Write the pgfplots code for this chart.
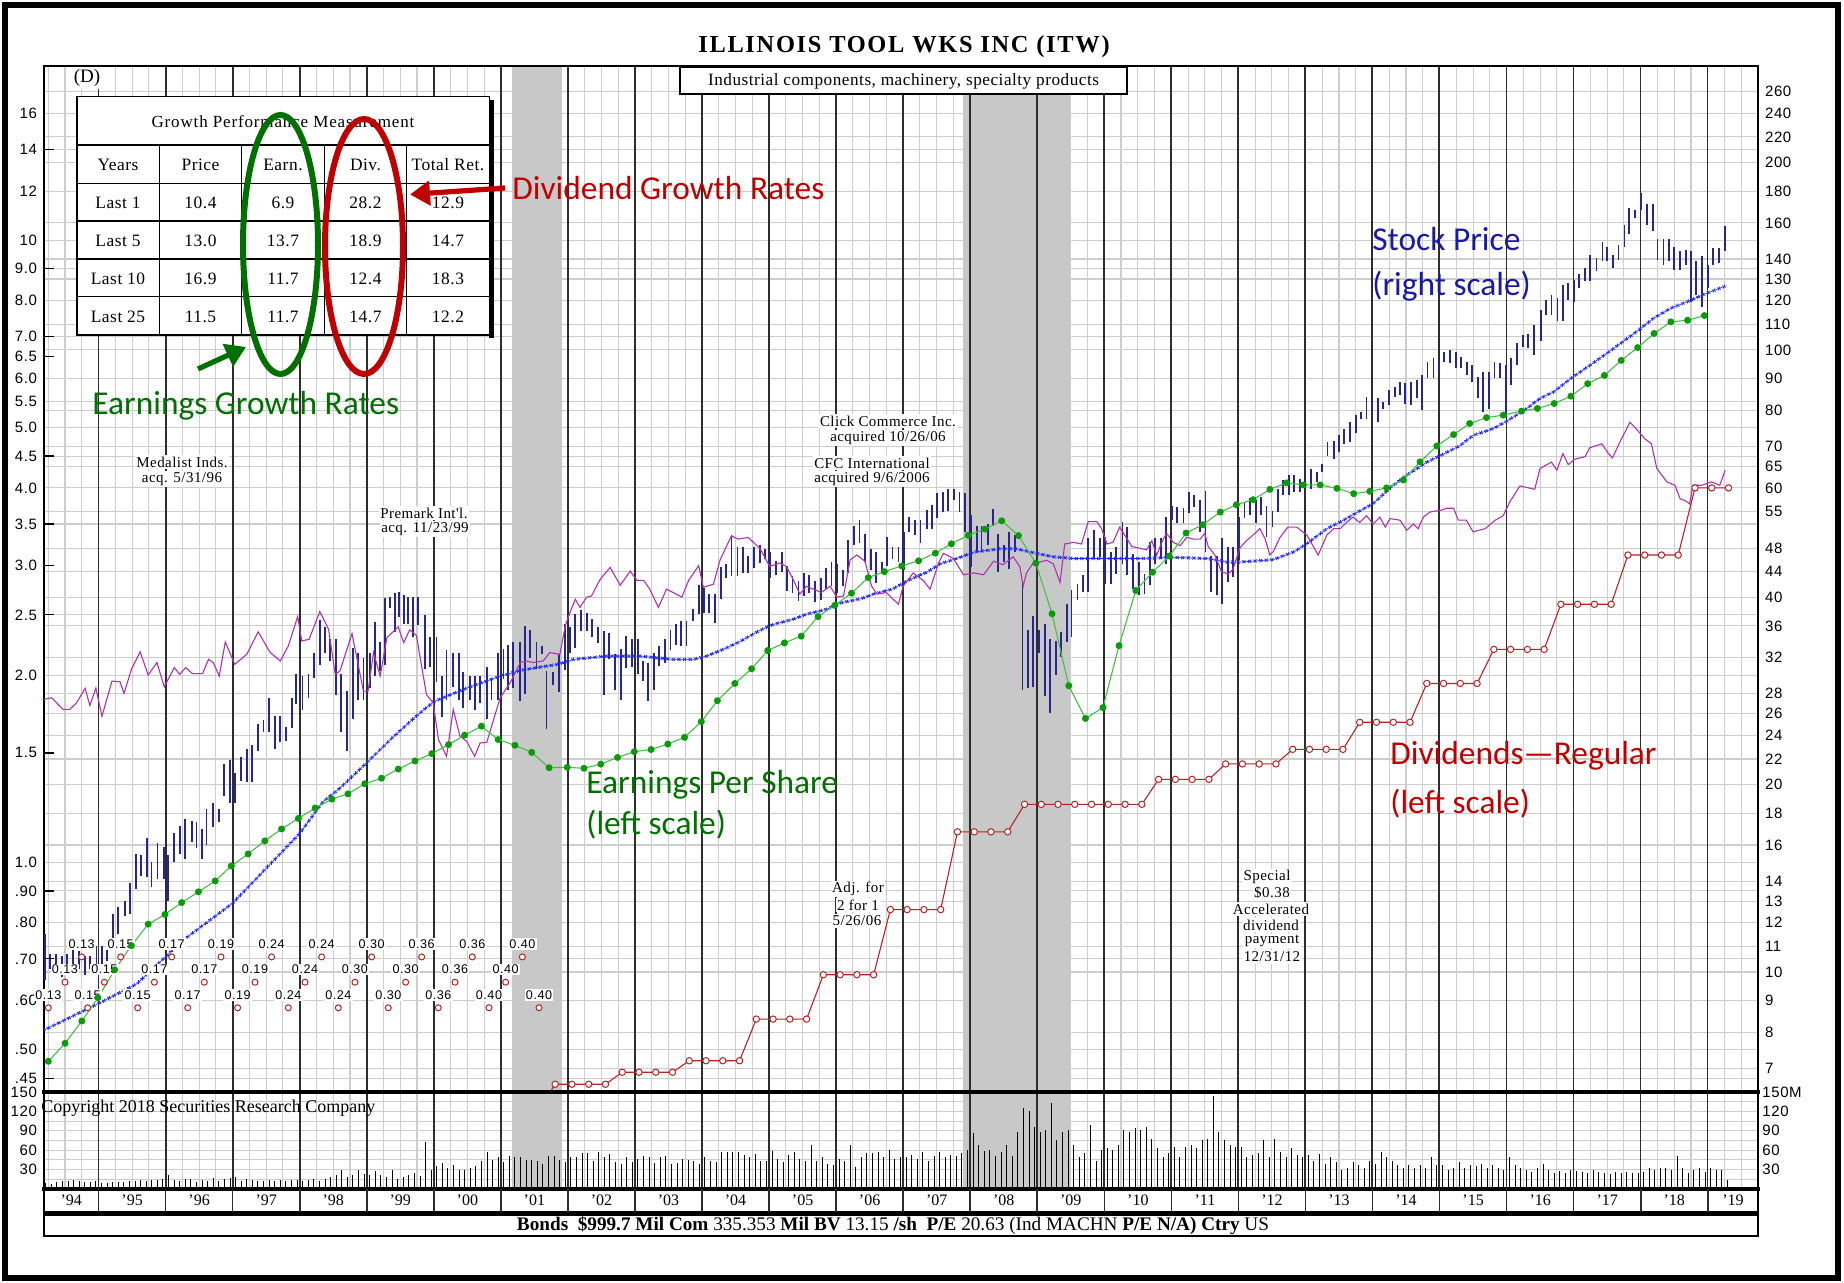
\documentclass[border=0pt]{standalone}
\usepackage{fontspec}
\setmainfont{Liberation Serif}
\newfontfamily\ticksf[LetterSpace=4]{Liberation Sans}
\newfontfamily\callf{Carlito}
\newfontfamily\annf[LetterSpace=3]{Liberation Serif}
\newfontfamily\widef[LetterSpace=5]{Liberation Serif}
\newfontfamily\titlef[LetterSpace=7]{Liberation Serif}
\usepackage{pgfplots}
\usepackage{pgfplotstable}
\pgfplotsset{compat=1.18}
\usetikzlibrary{decorations.markings,arrows.meta}

\definecolor{navy}{RGB}{38,38,140}
\definecolor{mablue}{RGB}{30,40,255}
\definecolor{rspurple}{RGB}{175,50,175}
\definecolor{epsgreen}{RGB}{10,155,10}
\definecolor{epsline}{RGB}{70,190,70}
\definecolor{divred}{RGB}{185,35,35}
\definecolor{gridgray}{RGB}{205,205,205}
\definecolor{recgray}{RGB}{200,200,200}
\definecolor{yearline}{RGB}{45,45,45}
\definecolor{callgreen}{RGB}{0,112,0}
\definecolor{callred}{RGB}{192,0,0}
\definecolor{callblue}{RGB}{25,25,165}

\newcommand\tickfont{\ticksf\fontsize{7.5}{8}\selectfont}
\newcommand\callfont{\callf\fontsize{16.7}{18}\selectfont}
\newcommand\annfont{\annf\fontsize{7.5}{8.5}\selectfont}

\tikzset{xmarks/.style={postaction={decorate}, decoration={markings,
  mark=between positions 0 and 1 step 2.8pt with {\draw[mablue, line width=0.4pt]
  (-0.75pt,-0.75pt)--(0.75pt,0.75pt) (-0.75pt,0.75pt)--(0.75pt,-0.75pt);}}},
  px/.style={x=0.5pt, y=-0.5pt, yshift=641.5pt}}

% monthly volume, millions of shares, from Apr 1994
\pgfplotstableread[row sep=\\]{v\\
9\\7\\11\\13\\13\\14\\13\\11\\11\\12\\
9\\10\\11\\11\\11\\12\\13\\14\\13\\14\\14\\15\\
21\\14\\13\\16\\15\\11\\14\\13\\17\\13\\15\\17\\
19\\13\\15\\14\\13\\13\\14\\12\\14\\13\\14\\14\\
13\\14\\15\\13\\16\\19\\21\\30\\19\\21\\29\\23\\
21\\28\\21\\19\\30\\16\\19\\21\\25\\20\\72\\30\\
36\\40\\33\\37\\29\\29\\33\\35\\44\\57\\45\\50\\
42\\51\\49\\49\\45\\45\\43\\39\\51\\51\\45\\42\\
50\\49\\55\\55\\44\\57\\49\\54\\42\\39\\49\\42\\
47\\51\\49\\40\\49\\51\\39\\40\\47\\45\\44\\39\\
50\\44\\42\\57\\57\\57\\57\\52\\50\\54\\44\\44\\
59\\47\\42\\52\\57\\47\\44\\68\\44\\50\\39\\37\\
47\\44\\68\\34\\50\\56\\56\\57\\49\\60\\47\\49\\
50\\52\\47\\57\\44\\51\\57\\49\\52\\51\\55\\60\\
86\\68\\59\\61\\51\\57\\68\\51\\88\\125\\120\\96\\
88\\91\\133\\75\\88\\91\\68\\50\\55\\99\\44\\60\\
63\\60\\68\\91\\88\\94\\91\\96\\78\\63\\50\\55\\
65\\50\\65\\68\\63\\75\\78\\144\\88\\75\\68\\65\\
65\\50\\52\\55\\75\\50\\78\\57\\50\\63\\52\\50\\
52\\44\\54\\39\\49\\42\\29\\33\\42\\37\\33\\44\\
39\\57\\49\\44\\37\\33\\37\\33\\37\\32\\50\\37\\
37\\29\\33\\42\\33\\37\\35\\39\\33\\37\\33\\30\\
50\\37\\33\\30\\26\\32\\39\\29\\25\\28\\25\\30\\
28\\26\\25\\30\\26\\25\\23\\26\\24\\26\\24\\25\\
26\\32\\29\\33\\32\\30\\51\\33\\25\\30\\33\\26\\
33\\29\\29\\14\\
}\voltab

\begin{document}
\begin{tikzpicture}
\begin{scope}[px]
\path[use as bounding box, fill=white] (0,0) rectangle (1844,1283);
\end{scope}

% ---------- price panel: light grid + recession shading
\begin{axis}[at={(22pt,95.5pt)}, anchor=south west, scale only axis, width=857pt, height=513pt,
  xmin=1994.186, xmax=2019.75, ymode=log, ymin=0.4276, ymax=19.07,
  axis line style={draw=none}, major tick length=0pt, minor tick length=0pt,
  xticklabels={}, yticklabels={},
  xtick distance=0.25, xmajorgrids, ymajorgrids,
  ytick={0.45,0.4667,0.5,0.5333,0.6,0.6667,0.7,0.7333,0.8,0.8667,0.9,0.9333,1,1.0667,1.2,1.3333,1.4667,1.6,1.7333,1.8667,2,2.1333,2.4,2.5,2.6667,2.9333,3.2,3.5,3.6667,4,4.3333,4.5,4.6667,5,5.3333,5.5,6,6.6667,7,7.3333,8,8.6667,9,9.3333,10,10.6667,12,13.3333,14,14.6667,16,17.3333},
  major grid style={draw=gridgray, line width=0.55pt}]
\addplot[draw=none, fill=recgray] coordinates {(2001.16,0.4276)(2001.16,19.07)(2001.91,19.07)(2001.91,0.4276)};
\addplot[draw=none, fill=recgray] coordinates {(2007.90,0.4276)(2007.90,19.07)(2009.49,19.07)(2009.49,0.4276)};
\end{axis}

% ---------- price panel: right scale, year lines, price bars, moving average
\begin{axis}[at={(22pt,95.5pt)}, anchor=south west, scale only axis, width=857pt, height=513pt,
  xmin=1994.186, xmax=2019.75, ymode=log, ymin=6.414, ymax=286.05,
  major tick length=0pt, minor tick length=0pt, xticklabels={},
  xtick={1995,...,2019}, xmajorgrids, major grid style={draw=yearline, line width=0.9pt},
  axis line style={draw=black, line width=0.9pt},
  ytick={7,8,9,10,11,12,13,14,16,18,20,22,24,26,28,32,36,40,44,48,55,60,65,70,80,90,100,110,120,130,140,160,180,200,220,240,260},
  yticklabels={7,8,9,10,11,12,13,14,16,18,20,22,24,26,28,32,36,40,44,48,55,60,65,70,80,90,100,110,120,130,140,160,180,200,220,240,260},
  yticklabel pos=right, yticklabel style={font=\tickfont}]
\addplot[navy, line width=0.9pt, unbounded coords=jump] coordinates {
(1994.20,9.7)(1994.20,11.5)(1994.20,nan) (1994.28,10.1)(1994.28,10.7)(1994.28,nan)
(1994.37,9.9)(1994.37,10.7)(1994.37,nan) (1994.45,9.8)(1994.45,10.6)(1994.45,nan)
(1994.53,9.9)(1994.53,10.7)(1994.53,nan) (1994.62,9.9)(1994.62,11.0)(1994.62,nan)
(1994.71,10.1)(1994.71,10.8)(1994.71,nan) (1994.80,9.9)(1994.80,10.6)(1994.80,nan)
(1994.87,10.1)(1994.87,10.6)(1994.87,nan) (1994.97,10.2)(1994.97,11.0)(1994.97,nan)
(1995.05,10.1)(1995.05,11.0)(1995.05,nan) (1995.13,10.4)(1995.13,11.3)(1995.13,nan)
(1995.21,11.3)(1995.21,12.4)(1995.21,nan) (1995.29,11.5)(1995.29,12.7)(1995.29,nan)
(1995.39,12.3)(1995.39,13.0)(1995.39,nan) (1995.47,12.4)(1995.47,13.9)(1995.47,nan)
(1995.56,13.6)(1995.56,15.5)(1995.56,nan) (1995.63,14.25)(1995.63,15.4)(1995.63,nan)
(1995.72,14.2)(1995.72,16.4)(1995.72,nan) (1995.79,13.7)(1995.79,15.0)(1995.79,nan)
(1995.88,14.1)(1995.88,16.1)(1995.88,nan) (1995.97,14.1)(1995.97,15.9)(1995.97,nan)
(1996.04,13.0)(1996.04,15.4)(1996.04,nan) (1996.13,15.0)(1996.13,16.7)(1996.13,nan)
(1996.21,15.5)(1996.21,17.15)(1996.21,nan) (1996.29,15.2)(1996.29,17.6)(1996.29,nan)
(1996.39,16.2)(1996.39,17.5)(1996.39,nan) (1996.46,15.8)(1996.46,17.4)(1996.46,nan)
(1996.54,15.2)(1996.54,17.0)(1996.54,nan) (1996.61,16.0)(1996.61,18.25)(1996.61,nan)
(1996.71,17.1)(1996.71,18.7)(1996.71,nan) (1996.80,17.4)(1996.80,18.25)(1996.80,nan)
(1996.87,19.2)(1996.87,21.6)(1996.87,nan) (1996.96,18.7)(1996.96,21.9)(1996.96,nan)
(1997.03,18.7)(1997.03,20.9)(1997.03,nan) (1997.12,20.3)(1997.12,22.2)(1997.12,nan)
(1997.21,20.2)(1997.21,22.8)(1997.21,nan) (1997.29,20.2)(1997.29,23.2)(1997.29,nan)
(1997.38,22.7)(1997.38,25.0)(1997.38,nan) (1997.46,24.3)(1997.46,25.4)(1997.46,nan)
(1997.54,24.3)(1997.54,27.6)(1997.54,nan) (1997.63,22.8)(1997.63,25.8)(1997.63,nan)
(1997.70,23.4)(1997.70,25.8)(1997.70,nan) (1997.79,23.5)(1997.79,24.8)(1997.79,nan)
(1997.88,24.7)(1997.88,27.6)(1997.88,nan) (1997.95,27.0)(1997.95,30.1)(1997.95,nan)
(1998.04,26.4)(1998.04,29.9)(1998.04,nan) (1998.13,27.6)(1998.13,30.1)(1998.13,nan)
(1998.21,29.7)(1998.21,32.6)(1998.21,nan) (1998.30,31.1)(1998.30,36.8)(1998.30,nan)
(1998.38,32.6)(1998.38,35.9)(1998.38,nan) (1998.45,31.6)(1998.45,34.3)(1998.45,nan)
(1998.54,27.9)(1998.54,34.3)(1998.54,nan) (1998.62,24.3)(1998.62,30.1)(1998.62,nan)
(1998.70,22.7)(1998.70,28.3)(1998.70,nan) (1998.80,25.5)(1998.80,33.2)(1998.80,nan)
(1998.87,27.4)(1998.87,32.6)(1998.87,nan) (1998.95,27.4)(1998.95,32.0)(1998.95,nan)
(1999.05,28.6)(1999.05,32.6)(1999.05,nan) (1999.12,29.9)(1999.12,36.5)(1999.12,nan)
(1999.20,30.5)(1999.20,33.9)(1999.20,nan) (1999.27,31.2)(1999.27,39.9)(1999.27,nan)
(1999.35,38.5)(1999.35,40.1)(1999.35,nan) (1999.42,35.2)(1999.42,40.6)(1999.42,nan)
(1999.48,37.2)(1999.48,40.8)(1999.48,nan) (1999.55,36.3)(1999.55,40.3)(1999.55,nan)
(1999.62,36.3)(1999.62,40.1)(1999.62,nan) (1999.69,34.6)(1999.69,40.1)(1999.69,nan)
(1999.77,36.1)(1999.77,40.1)(1999.77,nan) (1999.87,30.7)(1999.87,37.5)(1999.87,nan)
(1999.94,30.9)(1999.94,34.6)(1999.94,nan) (2000.04,29.3)(2000.04,34.6)(2000.04,nan)
(2000.12,25.7)(2000.12,29.9)(2000.12,nan) (2000.19,27.4)(2000.19,32.9)(2000.19,nan)
(2000.29,28.7)(2000.29,32.6)(2000.29,nan) (2000.37,27.4)(2000.37,32.6)(2000.37,nan)
(2000.44,26.6)(2000.44,30.3)(2000.44,nan) (2000.54,27.4)(2000.54,29.9)(2000.54,nan)
(2000.61,26.4)(2000.61,29.9)(2000.61,nan) (2000.69,27.1)(2000.69,29.9)(2000.69,nan)
(2000.79,25.5)(2000.79,30.9)(2000.79,nan) (2000.86,27.4)(2000.86,29.7)(2000.86,nan)
(2000.96,27.4)(2000.96,32.6)(2000.96,nan) (2001.04,29.6)(2001.04,33.0)(2001.04,nan)
(2001.11,28.4)(2001.11,33.5)(2001.11,nan) (2001.18,28.6)(2001.18,33.9)(2001.18,nan)
(2001.28,27.3)(2001.28,33.9)(2001.28,nan) (2001.36,28.0)(2001.36,36.0)(2001.36,nan)
(2001.43,32.0)(2001.43,35.4)(2001.43,nan) (2001.53,30.7)(2001.53,33.9)(2001.53,nan)
(2001.61,32.4)(2001.61,33.4)(2001.61,nan) (2001.68,24.6)(2001.68,30.5)(2001.68,nan)
(2001.78,28.9)(2001.78,30.3)(2001.78,nan) (2001.87,28.2)(2001.87,32.4)(2001.87,nan)
(2001.96,30.6)(2001.96,36.3)(2001.96,nan) (2002.03,32.6)(2002.03,35.8)(2002.03,nan)
(2002.11,33.2)(2002.11,37.6)(2002.11,nan) (2002.19,35.3)(2002.19,38.2)(2002.19,nan)
(2002.28,35.3)(2002.28,37.8)(2002.28,nan) (2002.36,34.5)(2002.36,36.9)(2002.36,nan)
(2002.45,33.8)(2002.45,35.8)(2002.45,nan) (2002.54,27.9)(2002.54,35.3)(2002.54,nan)
(2002.61,31.8)(2002.61,35.1)(2002.61,nan) (2002.70,28.4)(2002.70,32.4)(2002.70,nan)
(2002.79,27.4)(2002.79,33.1)(2002.79,nan) (2002.87,30.8)(2002.87,34.7)(2002.87,nan)
(2002.95,30.9)(2002.95,34.3)(2002.95,nan) (2003.04,30.1)(2003.04,34.3)(2003.04,nan)
(2003.12,29.4)(2003.12,31.6)(2003.12,nan) (2003.20,27.3)(2003.20,31.4)(2003.20,nan)
(2003.28,28.4)(2003.28,32.6)(2003.28,nan) (2003.36,31.0)(2003.36,33.4)(2003.36,nan)
(2003.45,31.4)(2003.45,34.3)(2003.45,nan) (2003.53,32.9)(2003.53,35.4)(2003.53,nan)
(2003.61,33.6)(2003.61,36.3)(2003.61,nan) (2003.69,33.4)(2003.69,36.7)(2003.69,nan)
(2003.77,33.4)(2003.77,36.7)(2003.77,nan) (2003.86,36.7)(2003.86,38.4)(2003.86,nan)
(2003.95,37.6)(2003.95,41.9)(2003.95,nan) (2004.03,37.8)(2004.03,41.5)(2004.03,nan)
(2004.11,37.8)(2004.11,40.5)(2004.11,nan) (2004.19,36.4)(2004.19,40.5)(2004.19,nan)
(2004.28,39.8)(2004.28,44.8)(2004.28,nan) (2004.36,43.0)(2004.36,45.2)(2004.36,nan)
(2004.44,43.3)(2004.44,50.4)(2004.44,nan) (2004.53,43.3)(2004.53,48.2)(2004.53,nan)
(2004.61,43.8)(2004.61,48.2)(2004.61,nan) (2004.69,43.8)(2004.69,46.7)(2004.69,nan)
(2004.78,44.6)(2004.78,48.2)(2004.78,nan) (2004.86,45.4)(2004.86,48.5)(2004.86,nan)
(2004.94,46.1)(2004.94,47.9)(2004.94,nan) (2005.01,43.0)(2005.01,47.3)(2005.01,nan)
(2005.10,43.4)(2005.10,45.8)(2005.10,nan) (2005.19,44.0)(2005.19,47.3)(2005.19,nan)
(2005.27,41.0)(2005.27,45.0)(2005.27,nan) (2005.35,40.7)(2005.35,43.3)(2005.35,nan)
(2005.44,39.5)(2005.44,42.5)(2005.44,nan) (2005.52,40.2)(2005.52,43.8)(2005.52,nan)
(2005.60,40.7)(2005.60,43.5)(2005.60,nan) (2005.69,39.3)(2005.69,42.5)(2005.69,nan)
(2005.77,39.7)(2005.77,43.0)(2005.77,nan) (2005.85,41.3)(2005.85,44.6)(2005.85,nan)
(2005.93,41.8)(2005.93,45.6)(2005.93,nan) (2006.02,40.7)(2006.02,45.3)(2006.02,nan)
(2006.10,41.8)(2006.10,44.2)(2006.10,nan) (2006.18,43.8)(2006.18,49.4)(2006.18,nan)
(2006.27,48.5)(2006.27,52.2)(2006.27,nan) (2006.35,49.0)(2006.35,53.2)(2006.35,nan)
(2006.43,45.6)(2006.43,50.6)(2006.43,nan) (2006.52,44.2)(2006.52,47.9)(2006.52,nan)
(2006.60,42.2)(2006.60,47.3)(2006.60,nan) (2006.68,43.8)(2006.68,45.6)(2006.68,nan)
(2006.76,45.0)(2006.76,50.0)(2006.76,nan) (2006.84,46.1)(2006.84,48.2)(2006.84,nan)
(2006.93,45.6)(2006.93,48.2)(2006.93,nan) (2007.01,44.2)(2007.01,51.0)(2007.01,nan)
(2007.09,51.0)(2007.09,53.9)(2007.09,nan) (2007.18,50.4)(2007.18,53.2)(2007.18,nan)
(2007.26,49.0)(2007.26,53.2)(2007.26,nan) (2007.35,51.6)(2007.35,55.3)(2007.35,nan)
(2007.43,51.6)(2007.43,56.3)(2007.43,nan) (2007.51,53.6)(2007.51,58.8)(2007.51,nan)
(2007.60,54.8)(2007.60,59.1)(2007.60,nan) (2007.67,55.1)(2007.67,59.8)(2007.67,nan)
(2007.76,57.3)(2007.76,59.8)(2007.76,nan) (2007.84,54.8)(2007.84,59.1)(2007.84,nan)
(2007.92,51.0)(2007.92,58.8)(2007.92,nan) (2008.01,44.7)(2008.01,54.2)(2008.01,nan)
(2008.10,47.3)(2008.10,52.2)(2008.10,nan) (2008.17,47.3)(2008.17,52.2)(2008.17,nan)
(2008.26,48.5)(2008.26,52.5)(2008.26,nan) (2008.34,52.2)(2008.34,55.5)(2008.34,nan)
(2008.42,43.9)(2008.42,50.6)(2008.42,nan) (2008.50,45.6)(2008.50,48.5)(2008.50,nan)
(2008.58,44.5)(2008.58,51.0)(2008.58,nan) (2008.67,47.3)(2008.67,50.4)(2008.67,nan)
(2008.78,28.4)(2008.78,42.5)(2008.78,nan) (2008.86,28.6)(2008.86,35.4)(2008.86,nan)
(2008.94,28.7)(2008.94,37.3)(2008.94,nan) (2009.03,32.6)(2009.03,35.4)(2009.03,nan)
(2009.11,27.8)(2009.11,36.2)(2009.11,nan) (2009.19,26.1)(2009.19,34.3)(2009.19,nan)
(2009.28,30.0)(2009.28,34.1)(2009.28,nan) (2009.36,32.1)(2009.36,35.2)(2009.36,nan)
(2009.44,33.9)(2009.44,39.1)(2009.44,nan) (2009.51,34.5)(2009.51,41.1)(2009.51,nan)
(2009.60,39.6)(2009.60,42.1)(2009.60,nan) (2009.68,40.8)(2009.68,43.4)(2009.68,nan)
(2009.76,40.8)(2009.76,49.8)(2009.76,nan) (2009.85,46.2)(2009.85,51.3)(2009.85,nan)
(2009.93,46.4)(2009.93,49.8)(2009.93,nan) (2010.01,42.1)(2010.01,50.1)(2010.01,nan)
(2010.10,42.1)(2010.10,47.3)(2010.10,nan) (2010.18,43.7)(2010.18,48.2)(2010.18,nan)
(2010.27,45.3)(2010.27,52.9)(2010.27,nan) (2010.34,43.4)(2010.34,51.9)(2010.34,nan)
(2010.43,41.3)(2010.43,47.0)(2010.43,nan) (2010.52,40.3)(2010.52,45.6)(2010.52,nan)
(2010.60,40.5)(2010.60,43.6)(2010.60,nan) (2010.68,41.9)(2010.68,49.2)(2010.68,nan)
(2010.76,45.3)(2010.76,49.8)(2010.76,nan) (2010.84,46.2)(2010.84,49.8)(2010.84,nan)
(2010.92,45.3)(2010.92,53.9)(2010.92,nan) (2011.01,53.3)(2011.01,56.2)(2011.01,nan)
(2011.09,52.6)(2011.09,55.9)(2011.09,nan) (2011.18,52.6)(2011.18,55.6)(2011.18,nan)
(2011.26,54.6)(2011.26,59.1)(2011.26,nan) (2011.34,55.9)(2011.34,58.4)(2011.34,nan)
(2011.43,51.0)(2011.43,57.3)(2011.43,nan) (2011.51,47.3)(2011.51,59.4)(2011.51,nan)
(2011.59,40.8)(2011.59,46.7)(2011.59,nan) (2011.68,40.3)(2011.68,46.7)(2011.68,nan)
(2011.76,39.1)(2011.76,49.8)(2011.76,nan) (2011.84,42.4)(2011.84,48.2)(2011.84,nan)
(2011.92,43.1)(2011.92,48.2)(2011.92,nan) (2012.01,45.9)(2012.01,53.9)(2012.01,nan)
(2012.09,53.6)(2012.09,56.9)(2012.09,nan) (2012.17,54.3)(2012.17,57.7)(2012.17,nan)
(2012.26,52.6)(2012.26,57.3)(2012.26,nan) (2012.34,54.3)(2012.34,58.0)(2012.34,nan)
(2012.42,50.1)(2012.42,56.2)(2012.42,nan) (2012.51,51.9)(2012.51,55.1)(2012.51,nan)
(2012.59,54.8)(2012.59,59.8)(2012.59,nan) (2012.67,58.4)(2012.67,61.7)(2012.67,nan)
(2012.76,58.4)(2012.76,62.9)(2012.76,nan) (2012.83,59.1)(2012.83,62.9)(2012.83,nan)
(2012.92,59.1)(2012.92,62.1)(2012.92,nan) (2013.00,60.6)(2013.00,65.6)(2013.00,nan)
(2013.08,59.8)(2013.08,64.4)(2013.08,nan) (2013.17,61.4)(2013.17,63.6)(2013.17,nan)
(2013.25,63.6)(2013.25,65.6)(2013.25,nan) (2013.33,67.6)(2013.33,71.1)(2013.33,nan)
(2013.42,66.8)(2013.42,71.5)(2013.42,nan) (2013.50,68.5)(2013.50,72.9)(2013.50,nan)
(2013.58,70.7)(2013.58,74.7)(2013.58,nan) (2013.66,71.1)(2013.66,76.6)(2013.66,nan)
(2013.75,73.4)(2013.75,78.5)(2013.75,nan) (2013.83,77.5)(2013.83,79.5)(2013.83,nan)
(2013.91,77.5)(2013.91,84.1)(2013.91,nan) (2014.00,77.5)(2014.00,84.1)(2014.00,nan)
(2014.08,76.6)(2014.08,83.6)(2014.08,nan) (2014.16,80.5)(2014.16,82.6)(2014.16,nan)
(2014.25,81.6)(2014.25,86.2)(2014.25,nan) (2014.33,84.1)(2014.33,87.3)(2014.33,nan)
(2014.41,84.6)(2014.41,88.9)(2014.41,nan) (2014.49,82.0)(2014.49,88.4)(2014.49,nan)
(2014.57,81.6)(2014.57,88.9)(2014.57,nan) (2014.66,83.6)(2014.66,89.5)(2014.66,nan)
(2014.74,80.0)(2014.74,91.2)(2014.74,nan) (2014.82,90.0)(2014.82,95.7)(2014.82,nan)
(2014.91,90.0)(2014.91,96.9)(2014.91,nan) (2014.99,92.3)(2014.99,95.7)(2014.99,nan)
(2015.07,95.7)(2015.07,99.3)(2015.07,nan) (2015.16,95.1)(2015.16,99.9)(2015.16,nan)
(2015.24,93.4)(2015.24,99.3)(2015.24,nan) (2015.32,93.4)(2015.32,97.5)(2015.32,nan)
(2015.41,91.2)(2015.41,95.7)(2015.41,nan) (2015.49,88.9)(2015.49,94.5)(2015.49,nan)
(2015.57,83.6)(2015.57,90.6)(2015.57,nan) (2015.65,79.5)(2015.65,92.3)(2015.65,nan)
(2015.74,80.5)(2015.74,92.3)(2015.74,nan) (2015.82,90.0)(2015.82,95.7)(2015.82,nan)
(2015.90,90.0)(2015.90,95.1)(2015.90,nan) (2015.99,79.0)(2015.99,94.5)(2015.99,nan)
(2016.07,87.8)(2016.07,96.9)(2016.07,nan) (2016.15,94.5)(2016.15,102.4)(2016.15,nan)
(2016.25,101.2)(2016.25,105.7)(2016.25,nan) (2016.32,100.6)(2016.32,106.0)(2016.32,nan)
(2016.41,98.0)(2016.41,109.6)(2016.41,nan) (2016.51,103.2)(2016.51,116.0)(2016.51,nan)
(2016.59,113.9)(2016.59,120.3)(2016.59,nan) (2016.67,113.9)(2016.67,122.6)(2016.67,nan)
(2016.76,111.1)(2016.76,121.0)(2016.76,nan) (2016.84,111.1)(2016.84,127.3)(2016.84,nan)
(2016.92,120.3)(2016.92,128.1)(2016.92,nan) (2017.00,119.6)(2017.00,129.7)(2017.00,nan)
(2017.08,125.7)(2017.08,132.2)(2017.08,nan) (2017.17,128.9)(2017.17,135.4)(2017.17,nan)
(2017.25,128.9)(2017.25,142.3)(2017.25,nan) (2017.34,133.7)(2017.34,140.6)(2017.34,nan)
(2017.43,138.8)(2017.43,149.3)(2017.43,nan) (2017.50,138.8)(2017.50,146.6)(2017.50,nan)
(2017.59,135.4)(2017.59,142.3)(2017.59,nan) (2017.67,139.7)(2017.67,147.5)(2017.67,nan)
(2017.76,146.6)(2017.76,159.0)(2017.76,nan) (2017.83,153.3)(2017.83,169.2)(2017.83,nan)
(2017.91,163.1)(2017.91,168.1)(2017.91,nan) (2018.00,168.1)(2018.00,179.0)(2018.00,nan)
(2018.09,159.0)(2018.09,171.3)(2018.09,nan) (2018.18,155.2)(2018.18,171.3)(2018.18,nan)
(2018.25,139.7)(2018.25,150.5)(2018.25,nan) (2018.34,137.1)(2018.34,150.5)(2018.34,nan)
(2018.42,138.8)(2018.42,150.5)(2018.42,nan) (2018.50,134.6)(2018.50,146.6)(2018.50,nan)
(2018.59,134.6)(2018.59,144.1)(2018.59,nan) (2018.67,137.1)(2018.67,145.0)(2018.67,nan)
(2018.75,119.6)(2018.75,144.1)(2018.75,nan) (2018.83,122.6)(2018.83,138.8)(2018.83,nan)
(2018.92,117.4)(2018.92,141.5)(2018.92,nan) (2019.00,125.7)(2019.00,137.1)(2019.00,nan)
(2019.08,137.1)(2019.08,145.8)(2019.08,nan) (2019.17,137.9)(2019.17,145.8)(2019.17,nan)
(2019.26,144.1)(2019.26,158.0)(2019.26,nan)
};
\addplot[mablue, line width=0.3pt, xmarks] coordinates {
(1994.18,8.06)(1995.00,8.9)(1995.57,9.57)(1996.26,11.25)(1997.00,12.9)(1997.76,15.7)
(1998.00,16.7)(1998.35,18.8)(1998.60,19.75)(1999.00,21.7)(1999.40,23.9)(1999.74,25.8)
(2000.00,27.2)(2000.49,28.6)(2000.99,29.9)(2001.33,30.6)(2001.83,31.2)(2002.08,31.8)
(2002.58,32.2)(2003.08,32.2)(2003.57,31.8)(2003.87,31.8)(2004.07,32.2)(2004.37,33.2)
(2004.57,34.0)(2004.86,35.4)(2005.06,36.2)(2005.36,36.9)(2005.56,37.6)(2005.86,38.3)
(2006.06,39.2)(2006.36,39.8)(2006.56,40.5)(2006.85,41.3)(2007.05,42.5)(2007.35,43.9)
(2007.55,45.3)(2007.85,46.4)(2008.05,47.3)(2008.44,47.9)(2008.69,47.9)(2008.94,47.2)
(2009.24,46.5)(2009.54,46.2)(2010.04,46.2)(2010.53,46.2)(2011.03,46.4)(2011.53,46.2)
(2011.83,45.6)(2012.02,45.6)(2012.52,46.0)(2012.82,47.3)(2013.02,48.8)(2013.32,51.6)
(2013.52,52.9)(2013.81,55.1)(2014.01,56.6)(2014.31,60.6)(2014.51,62.9)(2014.81,66.0)
(2015.01,67.6)(2015.30,70.1)(2015.50,72.9)(2015.80,74.7)(2016.00,76.8)(2016.30,80.5)
(2016.50,83.6)(2016.70,85.6)(2016.96,90.0)(2017.46,98.1)(2017.955,107.3)(2018.19,112.4)
(2018.45,116.7)(2018.70,119.6)(2018.95,122.9)(2019.25,126.5)
};
\end{axis}

% ---------- price panel: left scale, relative strength, earnings, dividends
\begin{axis}[at={(22pt,95.5pt)}, anchor=south west, scale only axis, width=857pt, height=513pt,
  xmin=1994.186, xmax=2019.75, ymode=log, ymin=0.4276, ymax=19.07,
  axis line style={draw=none}, major tick length=0pt, minor tick length=0pt, xtick=\empty,
  ytick={0.45,0.5,0.6,0.7,0.8,0.9,1,1.5,2,2.5,3,3.5,4,4.5,5,5.5,6,6.5,7,8,9,10,12,14,16},
  yticklabels={.45,.50,.60,.70,.80,.90,1.0,1.5,2.0,2.5,3.0,3.5,4.0,4.5,5.0,5.5,6.0,6.5,7.0,8.0,9.0,10,12,14,16},
  yticklabel pos=left, ytick pos=left, yticklabel style={font=\tickfont},
  extra y ticks={14,9,7,6.5,4.5,3.5,3,2.5,1.5,0.9,0.7,0.45}, extra y tick labels={},
  extra y tick style={major tick length=5pt, major tick style={draw=black, line width=0.6pt}}]
% quarterly dividends below the scale
\addplot[only marks, mark=*, mark size=1.5pt, divred, mark options={fill=white, draw=divred, line width=0.5pt},
  point meta=explicit symbolic, nodes near coords,
  nodes near coords style={font=\ticksf\fontsize{6.3}{7}\selectfont, text=black, anchor=center,
    yshift=6.3pt, fill=white, inner sep=0.7pt}] coordinates {
(1994.251,0.584)[0.13] (1994.499,0.642)[0.13] (1994.748,0.705)[0.13] (1994.837,0.584)[0.15]
(1995.086,0.642)[0.15] (1995.330,0.705)[0.15] (1995.583,0.584)[0.15] (1995.832,0.642)[0.17]
(1996.090,0.705)[0.17] (1996.329,0.584)[0.17] (1996.577,0.642)[0.17] (1996.826,0.705)[0.19]
(1997.074,0.584)[0.19] (1997.333,0.642)[0.19] (1997.581,0.705)[0.24] (1997.830,0.584)[0.24]
(1998.079,0.642)[0.24] (1998.327,0.705)[0.24] (1998.576,0.584)[0.24] (1998.824,0.642)[0.30]
(1999.073,0.705)[0.30] (1999.321,0.584)[0.30] (1999.580,0.642)[0.30] (1999.819,0.705)[0.36]
(2000.067,0.584)[0.36] (2000.316,0.642)[0.36] (2000.574,0.705)[0.36] (2000.823,0.584)[0.40]
(2001.071,0.642)[0.40] (2001.320,0.705)[0.40] (2001.569,0.584)[0.40]
};
% relative strength
\addplot[rspurple, line width=0.55pt] coordinates {
(1994.18,1.828)(1994.30,1.840)(1994.47,1.762)(1994.57,1.762)(1994.67,1.805)(1994.80,1.905)
(1994.87,1.788)(1994.96,1.907)(1995.05,1.718)(1995.20,1.957)(1995.32,1.952)(1995.38,1.870)
(1995.49,2.044)(1995.62,2.180)(1995.74,2.001)(1995.87,2.096)(1995.98,1.916)(1996.13,2.057)
(1996.21,2.006)(1996.30,2.057)(1996.40,2.011)(1996.55,2.011)(1996.64,2.121)(1996.71,2.096)
(1996.80,1.994)(1996.89,2.262)(1997.03,2.082)(1997.21,2.161)(1997.38,2.348)(1997.56,2.175)
(1997.71,2.108)(1997.83,2.228)(1997.97,2.485)(1998.03,2.270)(1998.14,2.284)(1998.30,2.532)
(1998.43,2.371)(1998.53,2.006)(1998.60,2.031)(1998.78,2.333)(1998.95,1.886)(1999.02,1.886)
(1999.10,2.175)(1999.20,1.994)(1999.30,2.298)(1999.47,2.392)(1999.55,2.256)(1999.64,2.365)
(1999.74,2.318)(1999.89,1.863)(1999.99,1.805)(2000.07,1.576)(2000.19,1.481)(2000.29,1.762)
(2000.39,1.596)(2000.49,1.566)(2000.61,1.481)(2000.69,1.556)(2000.79,1.560)(2000.99,1.840)
(2001.14,1.945)(2001.29,2.096)(2001.38,2.108)(2001.48,2.096)(2001.63,2.108)(2001.73,2.175)
(2001.88,2.16)(2001.96,2.401)(2002.03,2.52)(2002.11,2.65)(2002.18,2.57)(2002.28,2.67)
(2002.35,2.68)(2002.48,2.85)(2002.63,2.98)(2002.78,2.79)(2002.93,2.94)(2003.03,2.84)
(2003.13,2.84)(2003.22,2.75)(2003.35,2.57)(2003.47,2.75)(2003.57,2.716)(2003.70,2.67)
(2003.80,2.84)(2003.95,3.00)(2004.02,2.77)(2004.17,2.80)(2004.27,3.065)(2004.37,3.23)
(2004.44,3.35)(2004.54,3.31)(2004.69,3.33)(2004.87,3.19)(2005.01,2.99)(2005.16,3.03)
(2005.26,2.99)(2005.36,2.85)(2005.46,2.70)(2005.56,2.78)(2005.66,2.75)(2005.78,2.716)
(2005.91,2.78)(2006.01,2.67)(2006.11,2.68)(2006.21,3.065)(2006.31,3.12)(2006.43,3.05)
(2006.53,2.78)(2006.61,2.70)(2006.75,2.716)(2006.85,2.65)(2006.93,2.60)(2007.00,2.78)
(2007.15,2.92)(2007.30,2.84)(2007.40,2.75)(2007.53,3.03)(2007.60,3.14)(2007.75,3.08)
(2007.90,2.90)(2008.05,2.92)(2008.20,2.90)(2008.35,3.05)(2008.49,3.01)(2008.64,3.10)
(2008.74,2.99)(2008.79,2.78)(2008.84,2.92)(2008.94,3.03)(2009.04,3.04)(2009.14,3.06)
(2009.24,3.02)(2009.34,2.82)(2009.41,3.25)(2009.54,3.27)(2009.66,3.25)(2009.76,3.53)
(2009.89,3.53)(2009.96,3.44)(2010.04,3.25)(2010.13,3.27)(2010.23,3.46)(2010.41,3.22)
(2010.53,3.20)(2010.63,3.18)(2010.71,3.29)(2010.78,3.12)(2010.88,3.31)(2010.93,3.38)
(2011.03,3.27)(2011.13,3.23)(2011.23,3.33)(2011.33,3.31)(2011.43,3.31)(2011.50,3.38)
(2011.55,3.22)(2011.65,3.12)(2011.75,2.93)(2011.85,2.91)(2011.92,2.96)(2012.02,3.20)
(2012.12,3.29)(2012.22,3.36)(2012.32,3.44)(2012.40,3.31)(2012.47,3.12)(2012.52,3.16)
(2012.62,3.33)(2012.74,3.46)(2012.87,3.46)(2013.02,3.36)(2013.19,3.12)(2013.32,3.36)
(2013.42,3.44)(2013.52,3.44)(2013.61,3.52)(2013.71,3.59)(2013.81,3.52)(2013.91,3.61)
(2014.01,3.50)(2014.11,3.59)(2014.19,3.46)(2014.26,3.57)(2014.41,3.55)(2014.51,3.42)
(2014.61,3.50)(2014.68,3.44)(2014.76,3.59)(2014.86,3.66)(2015.01,3.68)(2015.11,3.71)
(2015.21,3.71)(2015.28,3.55)(2015.40,3.55)(2015.50,3.40)(2015.68,3.44)(2015.83,3.55)
(2015.95,3.61)(2016.05,3.80)(2016.20,4.03)(2016.42,3.98)(2016.50,4.30)(2016.67,4.40)
(2016.75,4.27)(2016.84,4.54)(2016.92,4.36)(2017.02,4.45)(2017.17,4.49)(2017.24,4.64)
(2017.42,4.71)(2017.52,4.54)(2017.58,4.47)(2017.69,4.74)(2017.84,5.10)(2017.91,5.01)
(2018.06,4.80)(2018.16,4.71)(2018.24,4.30)(2018.39,4.09)(2018.51,4.04)(2018.59,3.84)
(2018.66,3.82)(2018.73,3.77)(2018.78,4.04)(2018.91,4.04)(2019.06,4.09)(2019.18,4.04)
(2019.26,4.27)
};
% earnings per share (12 months)
\addplot[epsline, line width=0.55pt, mark=*, mark size=1.45pt, mark options={draw=epsgreen, fill=epsgreen}] coordinates {
(1994.25,0.479)(1994.50,0.512)(1994.75,0.556)(1994.99,0.606)(1995.24,0.672)(1995.49,0.735)
(1995.74,0.796)(1995.99,0.825)(1996.24,0.862)(1996.49,0.897)(1996.74,0.934)(1996.98,0.987)
(1997.23,1.032)(1997.48,1.083)(1997.73,1.132)(1997.98,1.177)(1998.23,1.223)(1998.48,1.264)
(1998.72,1.289)(1998.97,1.338)(1999.22,1.366)(1999.47,1.413)(1999.72,1.456)(1999.97,1.496)
(2000.22,1.547)(2000.46,1.602)(2000.71,1.656)(2000.96,1.576)(2001.21,1.543)(2001.46,1.503)
(2001.72,1.42)(2001.99,1.422)(2002.24,1.417)(2002.49,1.439)(2002.74,1.475)(2002.99,1.507)
(2003.24,1.519)(2003.49,1.550)(2003.74,1.589)(2003.99,1.684)(2004.23,1.820)(2004.49,1.940)
(2004.74,2.048)(2004.98,2.191)(2005.23,2.254)(2005.48,2.311)(2005.73,2.484)(2005.98,2.590)
(2006.23,2.709)(2006.48,2.870)(2006.72,2.934)(2006.98,2.997)(2007.23,3.054)(2007.48,3.142)
(2007.72,3.252)(2007.97,3.357)(2008.22,3.434)(2008.47,3.542)(2008.72,3.353)(2008.98,3.027)
(2009.22,2.51)(2009.47,1.924)(2009.72,1.704)(2009.98,1.774)(2010.22,2.231)(2010.47,2.736)
(2010.72,2.928)(2010.97,3.108)(2011.22,3.385)(2011.47,3.491)(2011.73,3.658)(2011.97,3.758)
(2012.22,3.830)(2012.47,3.979)(2012.72,4.075)(2012.97,4.044)(2013.22,4.044)(2013.47,3.995)
(2013.72,3.916)(2013.96,3.950)(2014.21,4.00)(2014.46,4.119)(2014.71,4.404)(2014.96,4.672)
(2015.21,4.873)(2015.45,5.077)(2015.70,5.189)(2015.95,5.236)(2016.225,5.316)(2016.46,5.367)
(2016.71,5.467)(2016.96,5.617)(2017.21,5.883)(2017.46,6.066)(2017.71,6.413)(2017.955,6.724)
(2018.20,7.085)(2018.45,7.396)(2018.70,7.440)(2018.95,7.571)
};
% regular dividends (annual rate)
\addplot[divred, line width=0.55pt, mark=*, mark size=1.6pt, mark options={fill=white, draw=divred, line width=0.5pt}] coordinates {
(2001.56,0.40)(2001.81,0.44)(2002.06,0.44)(2002.31,0.44)(2002.56,0.44)
(2002.81,0.46)(2003.06,0.46)(2003.31,0.46)(2003.56,0.46)
(2003.81,0.48)(2004.06,0.48)(2004.31,0.48)(2004.56,0.48)
(2004.81,0.56)(2005.06,0.56)(2005.31,0.56)(2005.56,0.56)
(2005.81,0.66)(2006.06,0.66)(2006.31,0.66)(2006.56,0.66)
(2006.81,0.84)(2007.06,0.84)(2007.31,0.84)(2007.56,0.84)
(2007.81,1.12)(2008.06,1.12)(2008.31,1.12)(2008.56,1.12)
(2008.81,1.24)(2009.06,1.24)(2009.31,1.24)(2009.56,1.24)(2009.81,1.24)(2010.06,1.24)(2010.31,1.24)(2010.56,1.24)
(2010.81,1.36)(2011.06,1.36)(2011.31,1.36)(2011.56,1.36)
(2011.81,1.44)(2012.06,1.44)(2012.31,1.44)(2012.56,1.44)
(2012.81,1.52)(2013.06,1.52)(2013.31,1.52)(2013.56,1.52)
(2013.81,1.68)(2014.06,1.68)(2014.31,1.68)(2014.56,1.68)
(2014.81,1.94)(2015.06,1.94)(2015.31,1.94)(2015.56,1.94)
(2015.81,2.20)(2016.06,2.20)(2016.31,2.20)(2016.56,2.20)
(2016.81,2.60)(2017.06,2.60)(2017.31,2.60)(2017.56,2.60)
(2017.81,3.12)(2018.06,3.12)(2018.31,3.12)(2018.56,3.12)
(2018.81,4.00)(2019.06,4.00)(2019.31,4.00)
};
\end{axis}

% ---------- volume panel
\begin{axis}[at={(22pt,47pt)}, anchor=south west, scale only axis, width=857pt, height=48.5pt,
  xmin=1994.186, xmax=2019.75, ymin=0, ymax=150,
  axis line style={draw=none}, major tick length=0pt, minor tick length=0pt,
  xticklabels={}, yticklabels={},
  xtick distance=0.25, ytick={15,30,...,135}, xmajorgrids, ymajorgrids,
  major grid style={draw=gridgray, line width=0.55pt}]
\addplot[draw=none, fill=recgray] coordinates {(2001.16,0)(2001.16,150)(2001.91,150)(2001.91,0)};
\addplot[draw=none, fill=recgray] coordinates {(2007.90,0)(2007.90,150)(2009.49,150)(2009.49,0)};
\end{axis}
\begin{axis}[at={(22pt,47pt)}, anchor=south west, scale only axis, width=857pt, height=48.5pt,
  xmin=1994.186, xmax=2019.75, ymin=0, ymax=150,
  major tick length=0pt, minor tick length=0pt, xticklabels={},
  xtick={1995,...,2019}, xmajorgrids, major grid style={draw=yearline, line width=0.9pt},
  axis line style={draw=black, line width=0.9pt},
  ytick={30,60,90,120,150}, yticklabels={30,60,90,120,150}, yticklabel pos=left,
  yticklabel style={font=\tickfont}]
\addplot[ycomb, black, line width=0.45pt] table[x expr=1994.21+\coordindex/12, y=v] {\voltab};
\end{axis}

\begin{scope}[px]
\foreach \v/\lab in {30/30,60/60,90/90,120/120,150/150M}
  \node[anchor=west, font=\tickfont, inner sep=0pt] at (1762,1189-\v*0.6467) {\lab};

% panel separators
\draw[line width=1.6pt] (42,1092)--(1760,1092);
\draw[line width=1.6pt] (42,1189)--(1760,1189);

% ---------- year row and fundamentals box
\draw[line width=0.7pt] (44,1189) rectangle (1758,1212);
\foreach \yr in {1995,...,2019}
  \draw[yearline, line width=0.8pt] ({44+(\yr-1994.186)*67.05},1189)--({44+(\yr-1994.186)*67.05},1212);
\node[font=\fontsize{8}{9}\selectfont] at (71.3,1200.5) {'94};
\foreach \yr/\lab in {1995/95,1996/96,1997/97,1998/98,1999/99,2000/00,2001/01,2002/02,2003/03,2004/04,2005/05,2006/06,2007/07,2008/08,2009/09,2010/10,2011/11,2012/12,2013/13,2014/14,2015/15,2016/16,2017/17,2018/18}
  \node[font=\fontsize{8}{9}\selectfont] at ({44+(\yr+0.5-1994.186)*67.05},1200.5) {'\lab};
\node[font=\fontsize{8}{9}\selectfont] at (1733,1200.5) {'19};
\draw[line width=1.1pt, fill=white] (44,1214.5) rectangle (1758,1236);
\node[font=\fontsize{9.6}{10}\selectfont] at (893,1225.5)
  {\textbf{Bonds}\enspace\textbf{\$999.7 Mil Com} 335.353 \textbf{Mil BV} 13.15 \textbf{/sh}\enspace\textbf{P/E} 20.63 (Ind MACHN \textbf{P/E N/A) Ctry} US};

% ---------- titles
\node[font=\titlef\bfseries\fontsize{12.2}{14}\selectfont] at (904,47) {ILLINOIS TOOL WKS INC (ITW)};
\draw[line width=0.8pt, fill=white] (680,67) rectangle (1127,94);
\node[font=\annf\fontsize{8.6}{9}\selectfont] at (903.5,81) {Industrial components, machinery, specialty products};
\node[fill=white, inner sep=1pt, font=\fontsize{9.5}{10}\selectfont] at (87,78) {(D)};

% ---------- growth table
\fill[black] (489,100) rectangle (494,338);
\draw[line width=0.8pt, fill=white] (76.7,96.7) rectangle (489.3,335);
\draw[line width=0.6pt] (76.7,145)--(489.3,145) (76.7,183.3)--(489.3,183.3) (76.7,221)--(489.3,221)
  (76.7,259)--(489.3,259) (76.7,296.7)--(489.3,296.7);
\foreach \cx in {159.3,241.7,324.3,406.7} \draw[line width=0.6pt] (\cx,145)--(\cx,335);
\node[font=\widef\fontsize{8.5}{10}\selectfont] at (283,122) {Growth Performance Measurement};
\begin{scope}[every node/.style={font=\annf\fontsize{8.7}{10}\selectfont}]
\foreach \c/\txt in {118/Years,200.5/Price,283/Earn.,365.5/Div.,448/Total Ret.} \node at (\c,164.5) {\txt};
\foreach \c/\txt in {118/Last 1,200.5/10.4,283/6.9,365.5/28.2,448/12.9} \node at (\c,202.5) {\txt};
\foreach \c/\txt in {118/Last 5,200.5/13.0,283/13.7,365.5/18.9,448/14.7} \node at (\c,240.5) {\txt};
\foreach \c/\txt in {118/Last 10,200.5/16.9,283/11.7,365.5/12.4,448/18.3} \node at (\c,278.5) {\txt};
\foreach \c/\txt in {118/Last 25,200.5/11.5,283/11.7,365.5/14.7,448/12.2} \node at (\c,316.5) {\txt};
\end{scope}

% ---------- call-outs
\draw[callgreen, line width=3pt] (280.5,244.5) ellipse [x radius=37.5, y radius=129.5];
\draw[callred, line width=3pt] (364,246.5) ellipse [x radius=39, y radius=127.5];
\draw[callred, line width=2.6pt, -{Triangle[length=10pt, width=12pt]}] (505,188) -- (410,194.5);
\draw[callgreen, line width=2.6pt, -{Triangle[length=10pt, width=12pt]}] (198,369) -- (246,347);
\begin{scope}[every node/.style={anchor=west, font=\callfont, inner sep=0pt}]
\node[text=callred] at (512,188) {Dividend Growth Rates};
\node[text=callgreen] at (92,406) {Earnings Growth Rates};
\node[text=callblue] at (1372,239) {Stock Price};
\node[text=callblue] at (1372,286) {(right scale)};
\node[text=callgreen] at (586,785) {Earnings Per Share};
\node[text=callgreen] at (586,825) {(left scale)};
\node[text=callred] at (1390,756) {Dividends—Regular};
\node[text=callred] at (1390,804) {(left scale)};
\end{scope}

% ---------- event notes
\begin{scope}[every node/.style={font=\annfont, fill=white, inner sep=0.8pt}]
\node at (182,462) {Medalist Inds.};
\node at (182,479) {acq. 5/31/96};
\node at (424,513) {Premark Int'l.};
\node at (425,529) {acq. 11/23/99};
\node at (888,421) {Click Commerce Inc.};
\node at (888,438) {acquired 10/26/06};
\node at (872,463) {CFC International};
\node at (872,479) {acquired 9/6/2006};
\node at (858,889) {Adj. for};
\node at (858,905) {2 for 1};
\node at (857,921) {5/26/06};
\node at (1267,877) {Special};
\node at (1272,893) {\$0.38};
\node at (1271,909) {Accelerated};
\node at (1271,925) {dividend};
\node at (1272,941) {payment};
\node at (1272,957) {12/31/12};
\end{scope}
\node[anchor=west, font=\fontsize{9}{10}\selectfont, inner sep=0pt] at (41,1108) {Copyright 2018 Securities Research Company};

% ---------- outer frame
\draw[line width=3pt] (5,5) rectangle (1838,1278);
\end{scope}
\end{tikzpicture}
\end{document}
